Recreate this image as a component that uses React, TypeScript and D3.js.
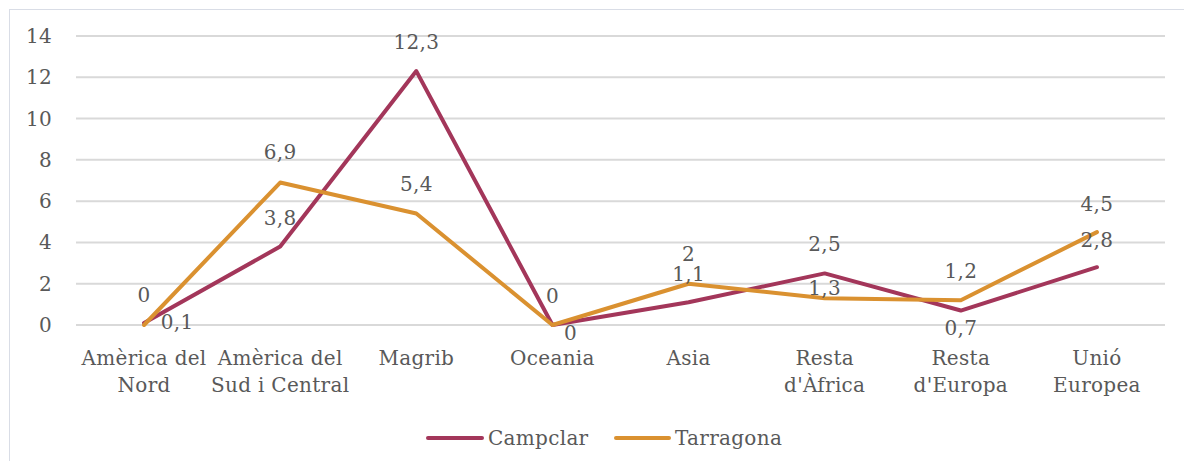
import React from "react";
import * as d3 from "d3";

const categories: string[][] = [
  ["Amèrica del", "Nord"],
  ["Amèrica del", "Sud i Central"],
  ["Magrib"],
  ["Oceania"],
  ["Asia"],
  ["Resta", "d'Àfrica"],
  ["Resta", "d'Europa"],
  ["Unió", "Europea"],
];
const campclar = [0.1, 3.8, 12.3, 0, 1.1, 2.5, 0.7, 2.8];
const tarragona = [0, 6.9, 5.4, 0, 2, 1.3, 1.2, 4.5];
const yTicks = [0, 2, 4, 6, 8, 10, 12, 14];
const seriesNames = ["Campclar", "Tarragona"];

// label offsets (dx, dy) relative to the point, default above
const campclarLabelOffsets: [number, number][] = [
  [33, -1], [0, -29], [0, -29], [18, 8], [0, -28], [0, -29], [0, 17], [0, -27],
];
const tarragonaLabelOffsets: [number, number][] = [
  [0, -30], [0, -31], [0, -30], [0, -29], [0, -30], [0, -10], [0, -29], [0, -28],
];

const W = 1184;
const H = 461;
const FONT = "'DejaVu Serif', serif";
const TEXT = "#595959";
const COLORS = ["#A3365A", "#DA9130"];

export default function App() {
  const left = 76, right = 1165, top = 36, bottom = 325;
  const x = d3.scaleBand<number>().domain(d3.range(categories.length)).range([left, right]);
  const y = d3.scaleLinear().domain([0, 14]).range([bottom, top]);
  const cx = (i: number) => (x(i) as number) + x.bandwidth() / 2;
  const line = d3.line<number>().x((_, i) => cx(i)).y((d) => y(d));
  const fmt = (v: number) => String(v).replace(".", ",");
  const series = [
    { name: seriesNames[0], values: campclar, offs: campclarLabelOffsets, color: COLORS[0] },
    { name: seriesNames[1], values: tarragona, offs: tarragonaLabelOffsets, color: COLORS[1] },
  ];
  const textStyle: React.CSSProperties = { fontFamily: FONT, letterSpacing: "0.3px" };
  const FS = 20;

  return (
    <svg
      width={W}
      height={H}
      style={{ position: "absolute", left: 0, top: 0, background: "#fff" }}
    >
      <rect x={9.5} y={9.5} width={1200} height={500} fill="#fff" stroke="#D9DDE6" strokeWidth={1} />
      {yTicks.map((t) => (
        <g key={t}>
          <line x1={left} x2={right} y1={y(t)} y2={y(t)} stroke="#D9D9D9" strokeWidth={2} />
          <text x={52} y={y(t)} dy="0.35em" textAnchor="end" fontSize={FS} fill={TEXT} style={textStyle}>
            {t}
          </text>
        </g>
      ))}
      {categories.map((lines, i) => (
        <text key={i} x={cx(i)} y={365} textAnchor="middle" fontSize={FS} fill={TEXT} style={textStyle}>
          {lines.map((l, j) => (
            <tspan key={j} x={cx(i)} dy={j === 0 ? 0 : 27}>
              {l}
            </tspan>
          ))}
        </text>
      ))}
      {series.map((s) => (
        <path
          key={s.name}
          d={line(s.values) || ""}
          fill="none"
          stroke={s.color}
          strokeWidth={4}
          strokeLinejoin="round"
          strokeLinecap="round"
        />
      ))}
      {series.map((s) =>
        s.values.map((v, i) => (
          <text
            key={s.name + i}
            x={cx(i) + s.offs[i][0]}
            y={y(v) + s.offs[i][1]}
            dy="0.35em"
            textAnchor="middle"
            fontSize={FS}
            fill={TEXT}
            style={textStyle}
          >
            {fmt(v)}
          </text>
        ))
      )}
      <g>
        <line x1={428} x2={482} y1={438} y2={438} stroke={COLORS[0]} strokeWidth={4} strokeLinecap="round" />
        <text x={488} y={438} dy="0.35em" fontSize={FS} fill={TEXT} style={textStyle}>
          {seriesNames[0]}
        </text>
        <line x1={616} x2={669} y1={438} y2={438} stroke={COLORS[1]} strokeWidth={4} strokeLinecap="round" />
        <text x={675} y={438} dy="0.35em" fontSize={FS} fill={TEXT} style={textStyle}>
          {seriesNames[1]}
        </text>
      </g>
    </svg>
  );
}
